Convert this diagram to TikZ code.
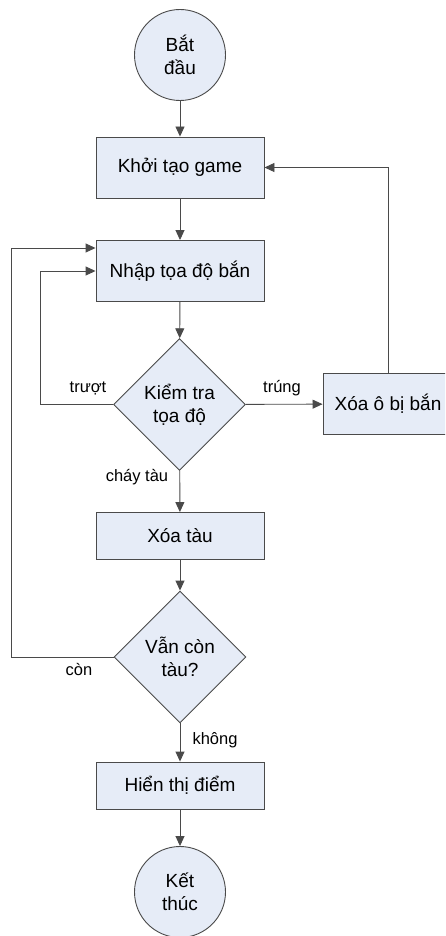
\documentclass[tikz,border=0pt]{standalone}
\usepackage{fontspec}
\setmainfont{Liberation Sans}
\usetikzlibrary{shapes.geometric,arrows.meta}
\definecolor{boxfill}{HTML}{E6ECF7}
\definecolor{edge}{HTML}{4A4A4A}
\tikzset{
  base/.style={draw=edge, line width=0.9pt, fill=boxfill, font=\fontsize{19}{23}\selectfont, align=center, inner sep=0pt},
  procbox/.style={base, rectangle, minimum width=168pt, minimum height=61pt},
  flatbox/.style={base, rectangle, minimum width=168pt, minimum height=47pt},
  termcirc/.style={base, circle, minimum size=91pt},
  decide/.style={base, diamond, minimum width=132pt, minimum height=132pt},
  arr/.style={draw=edge, line width=0.9pt, -{Triangle[length=10pt,width=9pt]}},
  lbl/.style={font=\fontsize{16.5}{20}\selectfont, inner sep=0pt}
}
\begin{document}
\begin{tikzpicture}[x=1pt,y=-1pt]
\clip (0,0) rectangle (445,936);
\fill[white] (0,0) rectangle (445,936);
\node[termcirc] (start) at (180,55) {Bắt\\đầu};
\node[procbox] (init) at (180,167.5) {Khởi tạo game};
\node[procbox] (input) at (180,271) {Nhập tọa độ bắn};
\node[decide] (check) at (179.5,404.5) {Kiểm tra\\tọa độ};
\node[procbox, minimum width=130pt] (clear) at (388,404) {Xóa ô bị bắn};
\node[flatbox] (del) at (180,536) {Xóa tàu};
\node[decide] (left) at (180,657) {Vẫn còn\\tàu?};
\node[flatbox] (score) at (180,785.5) {Hiển thị điểm};
\node[termcirc] (end) at (180,892) {Kết\\thúc};

\draw[arr] (start) -- (init);
\draw[arr] (init) -- (input);
\draw[arr] (input) -- (check);
\draw[arr] (check) -- (del);
\draw[arr] (check) -- (clear);
\draw[arr] (del) -- (left);
\draw[arr] (left) -- (score);
\draw[arr] (score) -- (end);
\draw[arr] (check.west) -- ++(-73,0) |- (input.west);
\draw[arr] (left.west) -- ++(-102,0) |- ([yshift=23pt]input.west);
\draw[arr] (clear.north) |- (init.east);

\node[lbl] (lmiss) at (88,388) {trượt};
\node[lbl] (lhit) at (282,388) {trúng};
\node[lbl] (lsink) at (137,477) {cháy tàu};
\node[lbl] (lyes) at (79,669) {còn};
\node[lbl] (lno) at (215,740) {không};
\end{tikzpicture}
\end{document}
